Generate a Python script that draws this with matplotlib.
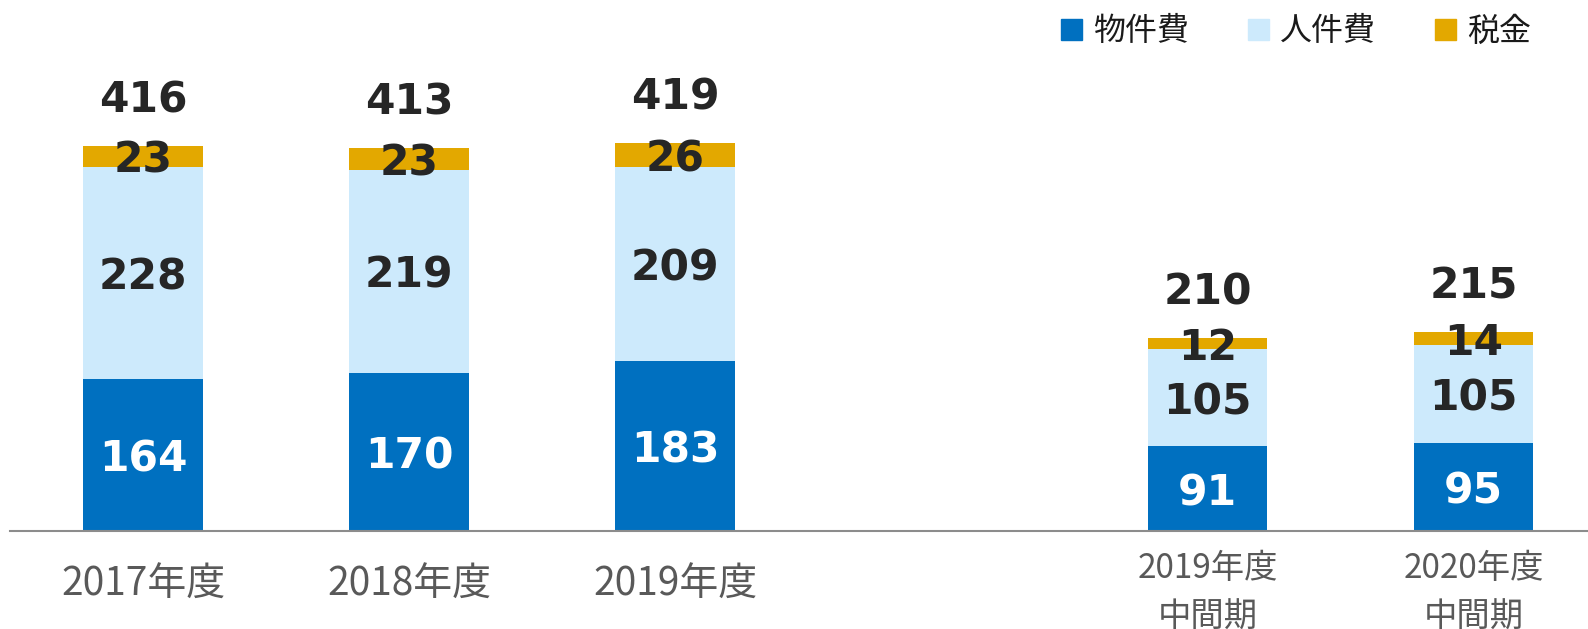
import matplotlib
matplotlib.use("Agg")
import matplotlib.pyplot as plt
from matplotlib.patches import Patch
from matplotlib.font_manager import FontProperties
import numpy as np

categories = ["2017年度", "2018年度", "2019年度", "2019年度\n中間期", "2020年度\n中間期"]
positions = [0, 1, 2, 4, 5]
butsukenhi = [164, 170, 183, 91, 95]
jinkenhi = [228, 219, 209, 105, 105]
zeikin = [23, 23, 26, 12, 14]
totals = [416, 413, 419, 210, 215]
series_names = ["物件費", "人件費", "税金"]

colors = ["#0070C0", "#CDEAFC", "#E3A800"]

plt.rcParams['font.family'] = ['Noto Sans CJK JP', 'DejaVu Sans']

fig = plt.figure(figsize=(15.88, 6.29), dpi=100)
ax = fig.add_axes([0.0063, 0.156, 0.9937, 0.844])

w = 0.45
b1 = np.array(butsukenhi)
b2 = np.array(jinkenhi)
b3 = np.array(zeikin)
ax.bar(positions, b1, w, color=colors[0], label=series_names[0])
ax.bar(positions, b2, w, bottom=b1, color=colors[1], label=series_names[1])
ax.bar(positions, b3, w, bottom=b1 + b2, color=colors[2], label=series_names[2])

fp = FontProperties(family='DejaVu Sans', weight='bold', size=30.5)
for i, p in enumerate(positions):
    ax.text(p, b1[i] / 2, str(b1[i]), ha='center', va='center_baseline', color='white', fontproperties=fp)
    ax.text(p, b1[i] + b2[i] / 2, str(b2[i]), ha='center', va='center_baseline', color='#262626', fontproperties=fp)
    ax.text(p, b1[i] + b2[i] + b3[i] / 2, str(b3[i]), ha='center', va='center_baseline', color='#262626', fontproperties=fp)
    top = b1[i] + b2[i] + b3[i]
    ax.annotate(str(totals[i]), (p, top), xytext=(0, 36), textcoords='offset points',
                ha='center', va='center_baseline', color='#262626', fontproperties=fp)

ax.set_xlim(-0.5, 5.43)
ax.set_ylim(0, 572)
ax.set_yticks([])
for s in ['top', 'right', 'left']:
    ax.spines[s].set_visible(False)
ax.spines['bottom'].set_color('#8C8C8C')
ax.spines['bottom'].set_linewidth(1.5)
ax.set_xticks(positions)
ax.set_xticklabels([])
ax.tick_params(axis='x', length=0)

for i, p in enumerate(positions):
    if i < 3:
        ax.annotate(categories[i], (p, 0), xytext=(0, -39), textcoords='offset points',
                    ha='center', va='center', color='#595959', fontsize=28)
    else:
        lines = categories[i].split("\n")
        ax.annotate(lines[0], (p, 0), xytext=(0, -27), textcoords='offset points',
                    ha='center', va='center', color='#595959', fontsize=24)
        ax.annotate(lines[1], (p, 0), xytext=(0, -62), textcoords='offset points',
                    ha='center', va='center', color='#595959', fontsize=24)

handles = [Patch(color=c) for c in colors]
leg = ax.legend(handles, series_names, loc='upper right', bbox_to_anchor=(0.982, 1.025),
                ncol=3, frameon=False, fontsize=23, handlelength=0.65, handleheight=0.65,
                handletextpad=0.35, columnspacing=1.85)
for t in leg.get_texts():
    t.set_color('#1a1a1a')

fig.savefig("out.png", dpi=100)
